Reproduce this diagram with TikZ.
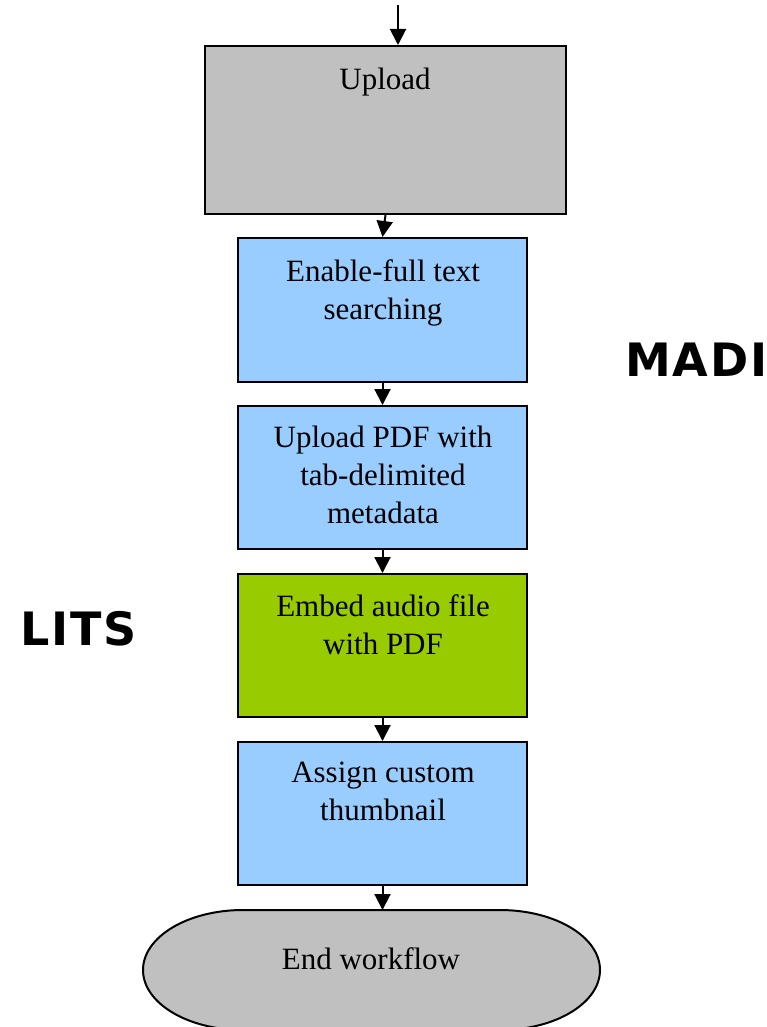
\documentclass[tikz,border=0pt]{standalone}
\usepackage{fontspec}
\setmainfont{Liberation Serif}
\newfontfamily\lblfont[LetterSpace=4]{DejaVu Sans}
\usetikzlibrary{arrows.meta}
\definecolor{boxgray}{HTML}{C0C0C0}
\definecolor{boxblue}{HTML}{99CCFF}
\definecolor{boxgreen}{HTML}{99CC00}
\begin{document}
\begin{tikzpicture}[x=1pt,y=-1pt,
  box/.style={draw=black, line width=2pt, inner sep=0pt, minimum width=289pt, minimum height=143pt},
  txt/.style={anchor=north, inner sep=0pt, align=center, font=\fontsize{31}{38}\selectfont},
  big/.style={anchor=base west, inner sep=0pt, font=\lblfont\bfseries\fontsize{46}{50}\selectfont},
  arr/.style={line width=2pt, -{Triangle[length=16pt,width=16pt]}}]
\useasboundingbox (0,0) rectangle (766,1027);
\fill[white] (0,0) rectangle (766,1027);
% boxes
\node[box, fill=boxgray, minimum width=361pt, minimum height=168pt] (up) at (385.5,130) {};
\node[box, fill=boxblue, minimum height=144pt] (b1) at (382.5,310) {};
\node[box, fill=boxblue] (b2) at (382.5,477.5) {};
\node[box, fill=boxgreen] (b3) at (382.5,645.5) {};
\node[box, fill=boxblue] (b4) at (382.5,813.5) {};
% terminal
\node[draw=none, inner sep=0pt, outer sep=0pt, minimum width=457pt, minimum height=120pt] (endbox) at (371.5,970) {};
\path[draw=black, line width=2pt, fill=boxgray]
  ([xshift=100pt]endbox.north west) -- ([xshift=-100pt]endbox.north east)
  arc[start angle=90, end angle=-90, x radius=100pt, y radius=60pt]
  -- ([xshift=100pt]endbox.south west)
  arc[start angle=270, end angle=90, x radius=100pt, y radius=60pt] -- cycle;
% texts
\node[txt] (t0) at (385,68) {Upload};
\node[txt] (t1) at (383,259) {Enable-full text\\searching};
\node[txt] (t2) at (383,426) {Upload PDF with\\tab-delimited\\metadata};
\node[txt] (t3) at (383,594) {Embed audio file\\with PDF};
\node[txt] (t4) at (383,762) {Assign custom\\thumbnail};
\node[txt] (t5) at (371,947) {End workflow};
\node[big] (madi) at (625,376) {MADI};
\node[big] (lits) at (20,645) {LITS};
% connectors
\coordinate (start) at (398,5);
\draw[arr] (start) -- (start |- up.north);
\draw[arr] (up.south) -- (b1.north);
\draw[arr] (b1.south) -- (b2.north);
\draw[arr] (b2.south) -- (b3.north);
\draw[arr] (b3.south) -- (b4.north);
\draw[arr] (b4.south) -- (b4.south |- endbox.north);
\end{tikzpicture}
\end{document}
